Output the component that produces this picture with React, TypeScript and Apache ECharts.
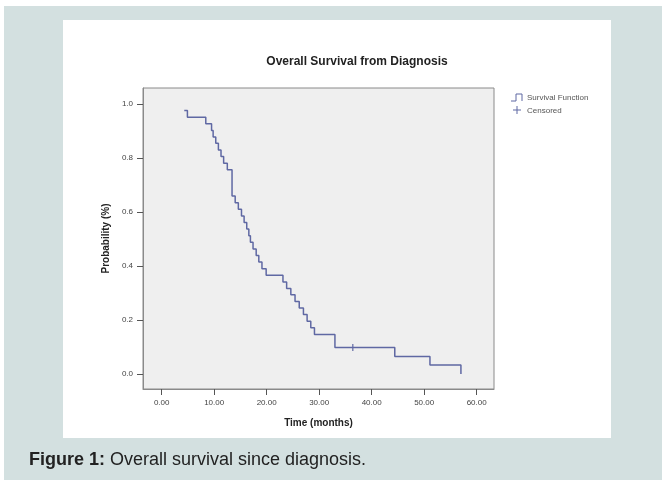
import React, { useEffect, useRef } from "react";
import * as echarts from "echarts";

const eventTimes = [4.3, 4.9, 8.4, 9.5, 9.8, 10.3, 10.8, 11.3, 11.8, 12.5, 13.4, 14.0, 14.6, 15.2, 15.7, 16.2, 16.6, 16.9, 17.4, 18.0, 18.5, 19.1, 19.9, 23.1, 23.8, 24.6, 25.4, 26.2, 27.0, 27.7, 28.4, 29.1, 33.0, 44.4, 51.1, 57.0];
const survival = [0.976, 0.951, 0.927, 0.902, 0.878, 0.854, 0.829, 0.805, 0.780, 0.756, 0.659, 0.634, 0.610, 0.585, 0.561, 0.537, 0.512, 0.488, 0.463, 0.439, 0.415, 0.390, 0.366, 0.341, 0.317, 0.293, 0.268, 0.244, 0.220, 0.195, 0.171, 0.146, 0.098, 0.065, 0.033, 0.0];
const censoredTimes = [36.4];
const censoredValues = [0.098];
const xTicks = [0, 10, 20, 30, 40, 50, 60];
const yTicks = [0, 0.2, 0.4, 0.6, 0.8, 1.0];

const FONT = "Liberation Sans, Arial, sans-serif";
const LINE = "#5f68a3";

export default function App() {
  const ref = useRef<HTMLDivElement>(null);
  useEffect(() => {
    if (!ref.current) return;
    const chart = echarts.init(ref.current, undefined, { renderer: "svg" });
    chart.setOption({
      animation: false,
      textStyle: { fontFamily: FONT },
      title: {
        text: "Overall Survival from Diagnosis",
        left: 352,
        top: 50,
        textAlign: "center",
        textStyle: { fontSize: 12, fontWeight: "bold", color: "#222", fontFamily: FONT },
      },
      graphic: [
        { type: "rect", z: -11, shape: { x: 0, y: 0, width: 662, height: 480 }, style: { fill: "#ffffff" } },
        { type: "rect", z: -10, shape: { x: 4, y: 6, width: 658, height: 474 }, style: { fill: "#d3e0e0" } },
        { type: "rect", z: -9, shape: { x: 63, y: 20, width: 548, height: 418 }, style: { fill: "#ffffff" } },
        {
          type: "polyline",
          shape: { points: [[511, 101], [516, 101], [516, 94], [522, 94], [522, 101]] },
          style: { stroke: LINE, lineWidth: 1, fill: null },
        },
        { type: "text", x: 527, y: 97, style: { text: "Survival Function", fontSize: 8, fill: "#555", fontFamily: FONT, verticalAlign: "middle" } },
        { type: "line", shape: { x1: 513, y1: 110, x2: 521, y2: 110 }, style: { stroke: LINE, lineWidth: 1 } },
        { type: "line", shape: { x1: 517, y1: 106, x2: 517, y2: 114 }, style: { stroke: LINE, lineWidth: 1 } },
        { type: "text", x: 527, y: 110, style: { text: "Censored", fontSize: 8, fill: "#555", fontFamily: FONT, verticalAlign: "middle" } },
        {
          type: "text",
          x: 29,
          y: 459,
          style: {
            text: "{b|Figure 1:} Overall survival since diagnosis.",
            fontSize: 18,
            fill: "#222",
            fontFamily: FONT,
            verticalAlign: "middle",
            rich: { b: { fontWeight: "bold", fontSize: 18, fill: "#222", fontFamily: FONT } },
          },
        },
      ],
      grid: {
        left: 143,
        top: 88,
        width: 351,
        height: 301,
        show: true,
        backgroundColor: "#efefef",
        borderColor: "#8a8a8a",
        borderWidth: 1,
      },
      xAxis: {
        type: "value",
        min: -3.56,
        max: 63.3,
        name: "Time (months)",
        nameLocation: "middle",
        nameGap: 28,
        nameTextStyle: { fontSize: 10, fontWeight: "bold", color: "#222", fontFamily: FONT },
        axisLine: { show: true, onZero: false, lineStyle: { color: "#8a8a8a" } },
        axisTick: { show: true, customValues: xTicks, length: 6, inside: false, lineStyle: { color: "#555" } },
        axisLabel: {
          customValues: xTicks,
          formatter: (v: number) => v.toFixed(2),
          fontSize: 8,
          color: "#444",
          margin: 9,
          fontFamily: FONT,
        },
        splitLine: { show: false },
      },
      yAxis: {
        type: "value",
        min: -0.0556,
        max: 1.059,
        name: "Probability (%)",
        nameLocation: "middle",
        nameGap: 30,
        nameRotate: 90,
        nameTextStyle: { fontSize: 10, fontWeight: "bold", color: "#222", fontFamily: FONT },
        axisLine: { show: true, onZero: false, lineStyle: { color: "#8a8a8a" } },
        axisTick: { show: true, customValues: yTicks, length: 6, inside: false, lineStyle: { color: "#555" } },
        axisLabel: {
          customValues: yTicks,
          formatter: (v: number) => v.toFixed(1),
          fontSize: 8,
          color: "#444",
          margin: 10,
          fontFamily: FONT,
        },
        splitLine: { show: false },
      },
      series: [
        {
          type: "line",
          name: "Survival Function",
          step: "end",
          showSymbol: false,
          symbol: "none",
          lineStyle: { color: LINE, width: 1.5 },
          data: eventTimes.map((t, i) => [t, survival[i]]),
        },
        {
          type: "scatter",
          name: "Censored",
          symbol: "rect",
          symbolSize: [1.5, 7],
          itemStyle: { color: LINE },
          data: censoredTimes.map((t, i) => [t, censoredValues[i]]),
        },
      ],
    });
    return () => chart.dispose();
  }, []);
  return <div ref={ref} style={{ position: "fixed", left: 0, top: 0, width: 662, height: 480 }} />;
}
